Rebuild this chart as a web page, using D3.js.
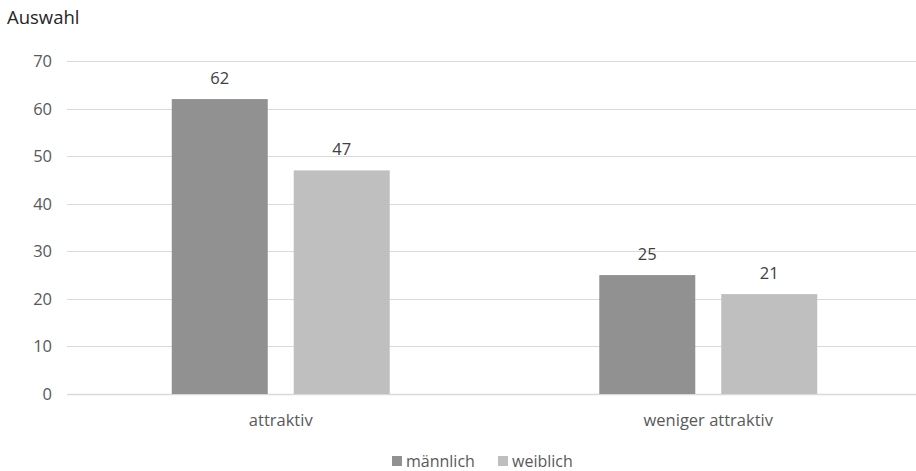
<!DOCTYPE html>
<html>
<head>
<meta charset="utf-8">
<script src="https://cdn.jsdelivr.net/npm/d3@7"></script>
<style>
  html, body { margin: 0; padding: 0; background: #fff; }
  svg { display: block; font-family: "Open Sans", "Noto Sans", sans-serif; }
</style>
</head>
<body>
<svg id="chart" width="916" height="471"></svg>
<script>
// Chart data
const categories = ["attraktiv", "weniger attraktiv"];
const seriesNames = ["männlich", "weiblich"];
const maennlich = [62, 25];
const weiblich = [47, 21];
const yTicks = [0, 10, 20, 30, 40, 50, 60, 70];
const yTitle = "Auswahl";

const seriesValues = [maennlich, weiblich];
const colors = ["#919191", "#bfbfbf"];
const fontSize = "16.5px";

const svg = d3.select("#chart");
const plot = { left: 67, right: 922, top: 61, bottom: 394 };

const x0 = d3.scaleBand().domain(categories).range([plot.left, plot.right]).paddingInner(0).paddingOuter(0);
const x1 = d3.scaleBand().domain(seriesNames).range([0, x0.bandwidth()]).paddingInner(0.213).paddingOuter(0.859);
const y = d3.scaleLinear().domain([0, 70]).range([plot.bottom, plot.top]);

// Gridlines
svg.append("g").selectAll("line").data(yTicks).join("line")
  .attr("x1", plot.left).attr("x2", plot.right)
  .attr("y1", d => Math.round(y(d)) + 0.5).attr("y2", d => Math.round(y(d)) + 0.5)
  .attr("stroke", "#d9d9d9").attr("stroke-width", 1);

// Y axis labels
const yAxis = d3.axisLeft(y).tickValues(yTicks).tickSize(0).tickPadding(0);
const yg = svg.append("g").attr("transform", `translate(${plot.left - 15},0)`).call(yAxis);
yg.select(".domain").remove();
yg.selectAll("text").attr("fill", "#595959").style("font-size", fontSize).style("font-family", "Open Sans").attr("dy", "0.33em");

// Baseline
svg.append("line").attr("x1", plot.left).attr("x2", plot.right)
  .attr("y1", plot.bottom + 0.5).attr("y2", plot.bottom + 0.5)
  .attr("stroke", "#d9d9d9").attr("stroke-width", 1.5);

// Bars and value labels
const groups = svg.append("g").selectAll("g").data(categories).join("g")
  .attr("transform", d => `translate(${x0(d)},0)`);

groups.selectAll("rect")
  .data((c, i) => seriesNames.map((s, j) => ({ s, v: seriesValues[j][i], j })))
  .join("rect")
  .attr("x", d => x1(d.s)).attr("width", x1.bandwidth())
  .attr("y", d => y(d.v)).attr("height", d => y(0) - y(d.v))
  .attr("fill", d => colors[d.j]);

groups.selectAll("text.val")
  .data((c, i) => seriesNames.map((s, j) => ({ s, v: seriesValues[j][i], j })))
  .join("text").attr("class", "val")
  .attr("x", d => x1(d.s) + x1.bandwidth() / 2)
  .attr("y", d => y(d.v) - 15)
  .attr("text-anchor", "middle")
  .attr("fill", "#404040").style("font-size", fontSize)
  .text(d => d.v);

// Category axis
const xAxis = d3.axisBottom(x0).tickSize(0).tickPadding(0);
const xg = svg.append("g").attr("transform", `translate(0,${plot.bottom})`).call(xAxis);
xg.select(".domain").remove();
xg.selectAll("text").attr("fill", "#595959").style("font-size", fontSize).style("font-family", "Open Sans")
  .attr("dy", null).attr("y", 32);

// Y title
svg.append("text").attr("x", 7).attr("y", 24).attr("fill", "#262626")
  .style("font-size", "18.5px").text(yTitle);

// Legend
const legendItems = [
  { name: seriesNames[0], color: colors[0], x: 392 },
  { name: seriesNames[1], color: colors[1], x: 498 }
];
const lg = svg.append("g").selectAll("g").data(legendItems).join("g")
  .attr("transform", d => `translate(${d.x},456)`);
lg.append("rect").attr("width", 10).attr("height", 10).attr("fill", d => d.color);
lg.append("text").attr("x", 14).attr("y", 10.5).attr("fill", "#595959")
  .style("font-size", "16px").text(d => d.name);
</script>
</body>
</html>
